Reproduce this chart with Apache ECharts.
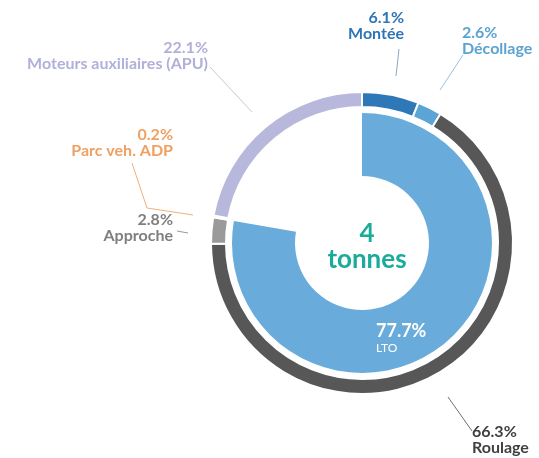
<!DOCTYPE html>
<html>
<head>
<meta charset="utf-8">
<script src="https://cdn.jsdelivr.net/npm/echarts@6/dist/echarts.min.js"></script>
<style>
html,body{margin:0;padding:0;background:#fff;}
#c{width:539px;height:458px;}
</style>
</head>
<body>
<div id="c"></div>
<script>
// ---- data ----
const segNames = ['Montée', 'Décollage', 'Roulage', 'Approche', 'Parc veh. ADP', 'Moteurs auxiliaires (APU)'];
const segValues = [6.1, 2.6, 66.3, 2.8, 0.2, 22.1];
const innerName = 'LTO';
const innerValue = 77.7;
const totalValue = '4';
const totalUnit = 'tonnes';

// ---- styles / layout (not data) ----
const segColors = ['#2e78b8', '#5aa5d5', '#575757', '#9a9a9a', '#f4b183', '#b8b8dd'];
const labelColors = ['#2e75b6', '#5ba3d0', '#404040', '#7f7f7f', '#f0a060', '#b0b0d8'];
const lineColors = ['#8aa8c8', '#9cc0dc', '#707070', '#9a9a9a', '#f0b07a', '#c8c8d8'];
const labelLayouts = [
  {x: 404, y: 10, align: 'right', line: [[396, 76], [399, 49], [399, 49]]},
  {x: 462, y: 25, align: 'left',  line: [[440, 90], [463, 55], [463, 55]]},
  {x: 472, y: 424, align: 'left', line: [[448, 397], [472, 431], [472, 431]]},
  {x: 173, y: 212, align: 'right', line: [[188, 233], [177, 231], [177, 231]]},
  {x: 173, y: 127, align: 'right', line: [[193, 215], [147, 208], [132, 163]]},
  {x: 208, y: 40, align: 'right', line: [[252, 112], [210, 67], [210, 67]]}
];
const CX = 362, CY = 243;
const FONT = 'Lato, "Open Sans", sans-serif';

const outerData = segNames.map((n, i) => ({
  name: n,
  value: segValues[i],
  itemStyle: {color: segColors[i]},
  label: {color: labelColors[i]},
  labelLine: {lineStyle: {color: lineColors[i], width: 1}}
}));

const chart = echarts.init(document.getElementById('c'), null, {renderer: 'canvas'});
chart.setOption({
  backgroundColor: '#fff',
  animation: false,
  series: [
    {
      type: 'pie',
      center: [CX, CY],
      radius: [136, 151],
      startAngle: 90,
      clockwise: true,
      avoidLabelOverlap: false,
      itemStyle: {borderColor: '#fff', borderWidth: 2},
      label: {
        show: true,
        position: 'outside',
        formatter: '{p|{c}%}\n{n|{b}}',
        fontFamily: FONT,
        fontWeight: 'bold',
        fontSize: 16,
        lineHeight: 16,
        rich: {
          p: {fontFamily: FONT, fontWeight: 'bold', fontSize: 16, lineHeight: 16},
          n: {fontFamily: FONT, fontWeight: 'bold', fontSize: 16, lineHeight: 16}
        }
      },
      labelLine: {show: true, length: 10, length2: 10},
      labelLayout: function (p) {
        const L = labelLayouts[p.dataIndex];
        return {x: L.x, y: L.y, align: L.align, verticalAlign: 'top', labelLinePoints: L.line};
      },
      data: outerData
    },
    {
      type: 'pie',
      center: [CX, CY],
      radius: [67, 130],
      startAngle: 90,
      clockwise: true,
      avoidLabelOverlap: false,
      silent: true,
      label: {
        show: true,
        position: 'inside',
        formatter: '{p|{c}%}\n{n|{b}}',
        color: '#ffffff',
        rich: {
          p: {fontFamily: FONT, fontWeight: 'bold', fontSize: 18, lineHeight: 20, color: '#fff'},
          n: {fontFamily: FONT, fontSize: 12, lineHeight: 14, color: '#fff'}
        }
      },
      labelLine: {show: false},
      labelLayout: function (p) {
        if (p.dataIndex !== 0) return {};
        return {x: 376, y: 321, align: 'left', verticalAlign: 'top'};
      },
      data: [
        {name: innerName, value: innerValue, itemStyle: {color: '#69acdb'}},
        {name: '', value: +(100 - innerValue).toFixed(1), itemStyle: {color: 'rgba(0,0,0,0)'}, label: {show: false}}
      ]
    }
  ],
  graphic: [
    {
      type: 'text',
      x: 367,
      y: 221,
      style: {
        text: totalValue + '\n' + totalUnit,
        align: 'center',
        verticalAlign: 'top',
        fill: '#1aab9b',
        font: 'bold 26px ' + FONT,
        lineHeight: 26
      }
    }
  ]
});
</script>
</body>
</html>
